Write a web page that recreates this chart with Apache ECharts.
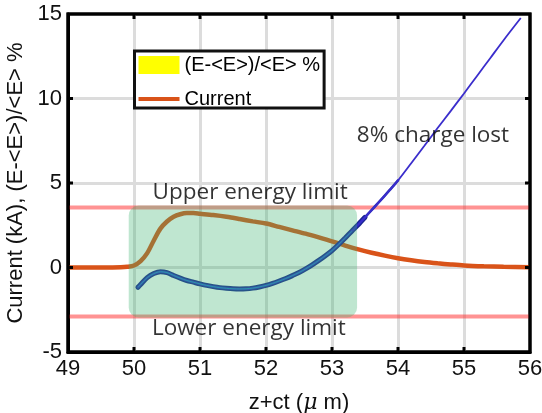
<!DOCTYPE html>
<html><head><meta charset="utf-8">
<script src="https://cdn.jsdelivr.net/npm/echarts@6/dist/echarts.min.js"></script>
<style>html,body{margin:0;padding:0;background:#fff}#c{width:542px;height:413px}</style>
</head><body><div id="c"></div>
<script>
// ---- data ----
const xTicks = [49, 50, 51, 52, 53, 54, 55, 56];
const yTicks = [-5, 0, 5, 10, 15];
const currentX = [49.0, 49.5, 49.8, 49.9, 50.0, 50.1, 50.2, 50.3, 50.4, 50.5, 50.6, 50.7, 50.8, 50.9, 51.0, 51.2, 51.4, 51.6, 51.8, 52.0, 52.2, 52.4, 52.6, 52.8, 53.0, 53.2, 53.4, 53.6, 53.8, 54.0, 54.2, 54.4, 54.6, 54.8, 55.0, 55.3, 55.6, 56.0];
const currentY = [0, 0, 0.01, 0.04, 0.12, 0.38, 0.85, 1.6, 2.3, 2.72, 3.0, 3.15, 3.22, 3.22, 3.18, 3.1, 3.0, 2.87, 2.73, 2.6, 2.4, 2.2, 2.0, 1.78, 1.55, 1.3, 1.07, 0.87, 0.7, 0.55, 0.43, 0.33, 0.25, 0.18, 0.12, 0.07, 0.04, 0.02];
const energyX = [50.06, 50.1, 50.2, 50.3, 50.4, 50.5, 50.6, 50.7, 50.8, 50.9, 51.0, 51.1, 51.2, 51.3, 51.4, 51.5, 51.6, 51.7, 51.8, 51.9, 52.0, 52.1, 52.2, 52.3, 52.4, 52.5, 52.6, 52.7, 52.8, 52.9, 53.0, 53.1, 53.2, 53.3, 53.4, 53.5, 53.6, 53.7, 53.8, 53.9, 54.0, 54.2, 54.4, 54.6, 54.8, 55.0, 55.2, 55.4, 55.6, 55.86];
const energyY = [-1.17, -1.0, -0.6, -0.36, -0.25, -0.3, -0.47, -0.63, -0.77, -0.87, -0.97, -1.06, -1.13, -1.19, -1.23, -1.26, -1.27, -1.26, -1.22, -1.15, -1.06, -0.94, -0.8, -0.65, -0.48, -0.3, -0.08, 0.16, 0.42, 0.7, 1.0, 1.36, 1.75, 2.15, 2.55, 2.97, 3.4, 3.82, 4.25, 4.7, 5.15, 6.17, 7.2, 8.25, 9.27, 10.3, 11.35, 12.4, 13.45, 14.76];
const upperLimit = 3.55;
const lowerLimit = -2.9;
const boxX = [49.92, 53.38];
const boxY = [-2.96, 3.67];
const noteTexts = ['8% charge lost', 'Upper energy limit', 'Lower energy limit'];

const E_NAME = '(E-<E>)/<E> %';
const xMin = xTicks[0], xMax = xTicks[xTicks.length - 1];
const yMin = yTicks[0], yMax = yTicks[yTicks.length - 1];
const pair = (xs, ys) => xs.map((x, i) => [x, ys[i]]);
const energyAll = pair(energyX, energyY);
const energyLow = energyAll.filter(p => p[0] <= 53.5);
const energyMid = energyAll.filter(p => p[0] <= 54.0);
const energyInner = energyAll.filter(p => p[0] <= 53.3);

// grid line colours: none at the frame edges
const gridCol = n => Array.from({length: n}, (_, i) => (i === 0 || i === n - 1) ? 'rgba(0,0,0,0)' : '#dcdcdc');

const chart = echarts.init(document.getElementById('c'));
const lblFont = {fontSize: 22, color: '#111', fontFamily: 'Liberation Sans, Arial, sans-serif'};
const legendFont = {fontSize: 20, color: '#000', fontFamily: 'Liberation Sans, Arial, sans-serif'};
const frameLine = {show: true, onZero: false, lineStyle: {color: '#000', width: 3}};
const option = {
  animation: false,
  backgroundColor: '#fff',
  grid: {left: 68, top: 14, right: 12, bottom: 61, outerBoundsMode: 'none',
    show: true, borderColor: '#000', borderWidth: 3},
  xAxis: {
    type: 'value', min: xMin, max: xMax, interval: 1, position: 'bottom',
    axisLine: frameLine, axisTick: {show: false},
    axisLabel: Object.assign({margin: 6}, lblFont),
    splitLine: {show: true, lineStyle: {color: gridCol(xTicks.length), width: 3}},
    name: 'z+ct ({i|μ} m)', nameLocation: 'middle', nameGap: 40,
    nameTextStyle: Object.assign({}, lblFont, {rich: {i: {fontStyle: 'italic', fontSize: 22, fontFamily: 'DejaVu Serif, serif', color: '#111'}}})
  },
  yAxis: {
    type: 'value', min: yMin, max: yMax, interval: 5, position: 'left',
    axisLine: frameLine, axisTick: {show: false},
    axisLabel: Object.assign({margin: 6}, lblFont),
    splitLine: {show: true, lineStyle: {color: gridCol(yTicks.length), width: 3}},
    name: 'Current (kA), (E-<E>)/<E> %', nameLocation: 'middle', nameGap: 33,
    nameTextStyle: Object.assign({}, lblFont, {fontSize: 22})
  },
  legend: [
    {
      left: 134.5, top: 51, orient: 'vertical',
      backgroundColor: '#fff', borderColor: '#111', borderWidth: 3,
      padding: [4, 4, 33, 4], itemWidth: 41, itemHeight: 18, itemTextGap: 5,
      textStyle: legendFont, selectedMode: false,
      data: [{name: E_NAME, icon: 'rect', itemStyle: {color: '#ffff00'}}]
    },
    {
      left: 138.5, top: 89, orient: 'vertical', padding: 0,
      itemWidth: 41, itemHeight: 4, itemTextGap: 5,
      textStyle: legendFont, selectedMode: false,
      data: [{name: 'Current', icon: 'rect', itemStyle: {color: '#d95319'}}]
    }
  ],
  series: [
    {type: 'line', name: 'upper', data: [[xMin, upperLimit], [xMax, upperLimit]],
      symbol: 'none', lineStyle: {color: 'rgba(255,40,40,0.5)', width: 4}, z: 2, silent: true},
    {type: 'line', name: 'lower', data: [[xMin, lowerLimit], [xMax, lowerLimit]],
      symbol: 'none', lineStyle: {color: 'rgba(255,40,40,0.5)', width: 4}, z: 2, silent: true},
    {type: 'line', name: 'Current', data: pair(currentX, currentY), smooth: 0.3, symbol: 'none',
      color: '#d95319', lineStyle: {color: '#d95319', width: 4.5}, z: 3},
    {type: 'line', name: 'band', data: energyLow, smooth: 0.3, symbol: 'none',
      lineStyle: {color: '#1a2590', width: 5, cap: 'round'}, z: 4},
    {type: 'line', name: 'bandMid', data: energyMid, smooth: 0.3, symbol: 'none',
      lineStyle: {color: '#2a2ab8', width: 2.6, cap: 'round'}, z: 4},
    {type: 'line', name: E_NAME, data: energyAll, smooth: 0.3, symbol: 'none',
      color: '#3a2dcc', lineStyle: {color: '#3a2dcc', width: 1.8}, z: 4},
    {type: 'line', name: 'inner', data: energyInner, smooth: 0.3, symbol: 'none',
      lineStyle: {color: '#1f8fc4', width: 1}, z: 4},
    {type: 'custom', name: 'box', silent: true, z: 6,
      data: [[boxX[0], boxX[1], boxY[0], boxY[1]]],
      encode: {x: [0, 1], y: [2, 3]},
      renderItem: function (params, api) {
        const p0 = api.coord([api.value(0), api.value(3)]);
        const p1 = api.coord([api.value(1), api.value(2)]);
        return {type: 'rect', shape: {x: p0[0], y: p0[1], width: p1[0] - p0[0], height: p1[1] - p0[1], r: 10},
          style: {fill: 'rgba(60,179,113,0.33)'}};
      }},
    {type: 'scatter', name: 'notes', silent: true, z: 7, symbolSize: 1,
      itemStyle: {color: 'rgba(0,0,0,0)'},
      label: {show: true, position: 'inside', formatter: '{b}', fontSize: 22.5, color: '#000',
        fontFamily: 'Open Sans, Noto Sans, sans-serif'},
      data: [
        {name: noteTexts[0], value: [54.53, 7.78]},
        {name: noteTexts[1], value: [51.76, 4.45]},
        {name: noteTexts[2], value: [51.74, -3.62]}
      ]}
  ]
};
chart.setOption(option);

// frame box and inward ticks on all four sides, placed through the chart's own scales
const TICK = 5;
const toPx = (x, y) => chart.convertToPixel({gridIndex: 0}, [x, y]);
const tl = toPx(xMin, yMax);
const br = toPx(xMax, yMin);
const frameEls = [{
  type: 'rect', z: 100, silent: true,
  shape: {x: tl[0], y: tl[1], width: br[0] - tl[0], height: br[1] - tl[1]},
  style: {fill: 'none', stroke: '#000', lineWidth: 3}
}];
const tickEl = (x1, y1, x2, y2) => ({type: 'line', z: 100, silent: true,
  shape: {x1, y1, x2, y2}, style: {stroke: '#000', lineWidth: 3}});
xTicks.slice(1, -1).forEach(v => {
  const px = toPx(v, yMin)[0];
  frameEls.push(tickEl(px, br[1], px, br[1] - TICK));
  frameEls.push(tickEl(px, tl[1], px, tl[1] + TICK));
});
yTicks.slice(1, -1).forEach(v => {
  const py = toPx(xMin, v)[1];
  frameEls.push(tickEl(tl[0], py, tl[0] + TICK, py));
  frameEls.push(tickEl(br[0], py, br[0] - TICK, py));
});
chart.setOption({graphic: {elements: frameEls}});
</script></body></html>
